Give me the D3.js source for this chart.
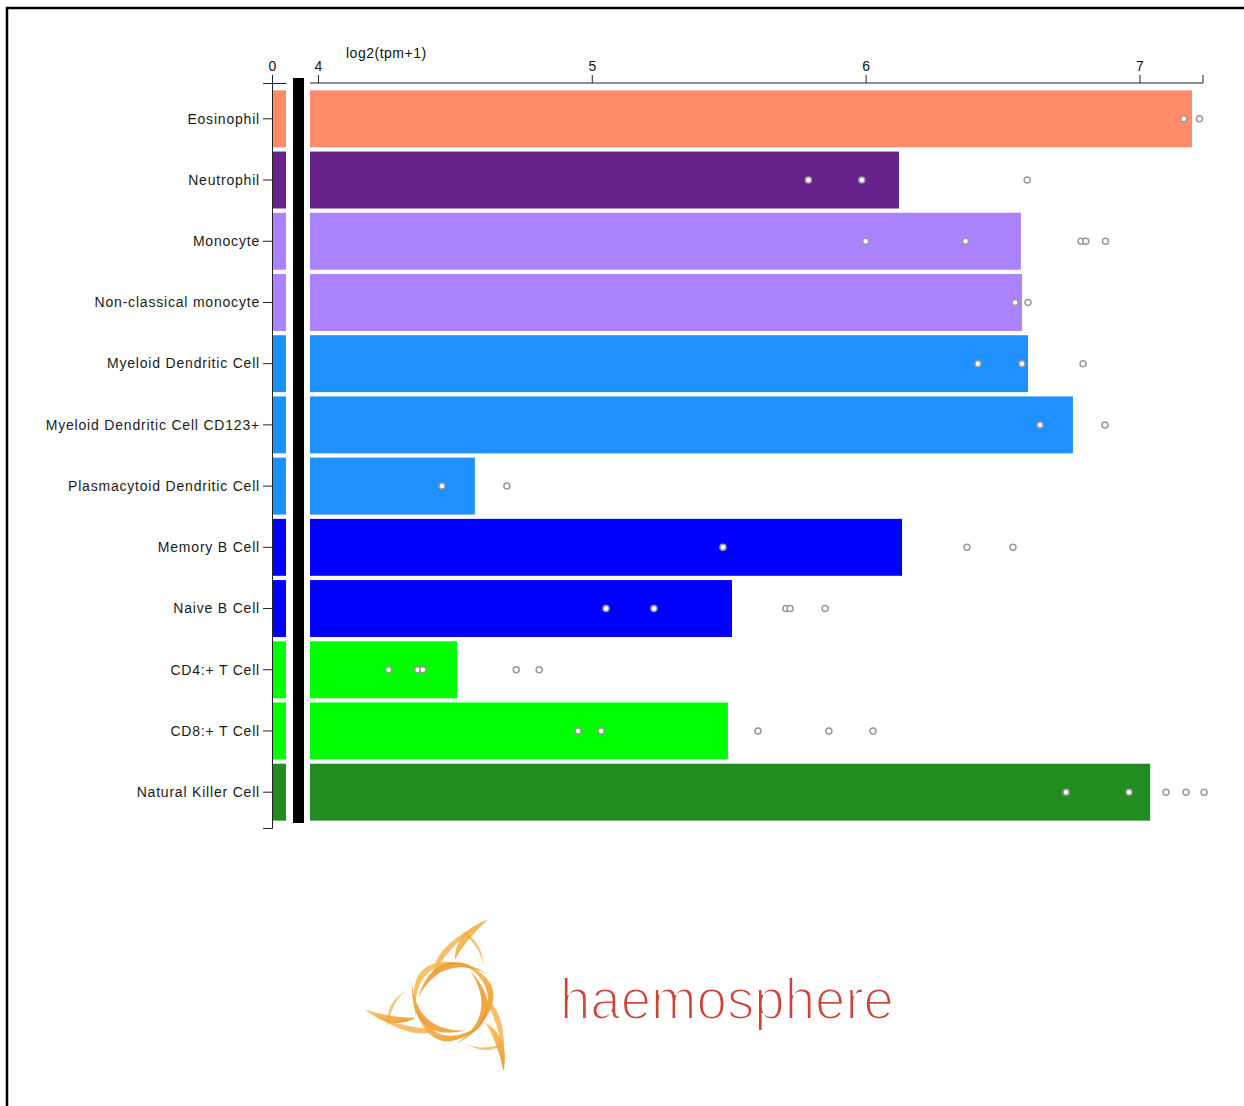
<!DOCTYPE html>
<html>
<head>
<meta charset="utf-8">
<script src="https://cdn.jsdelivr.net/npm/d3@7"></script>
<style>
  body { margin: 0; background: #fff; }
  svg text { font-family: "Liberation Sans", Arial, sans-serif; }
</style>
</head>
<body>
<svg id="svg" width="1244" height="1106"></svg>
<script>
// cell types, mean expression and sample values (log2(tpm+1))
var categories = ["Eosinophil", "Neutrophil", "Monocyte", "Non-classical monocyte",
  "Myeloid Dendritic Cell", "Myeloid Dendritic Cell CD123+", "Plasmacytoid Dendritic Cell",
  "Memory B Cell", "Naive B Cell", "CD4:+ T Cell", "CD8:+ T Cell", "Natural Killer Cell"];
var barValues = [7.192, 6.122, 6.567, 6.571, 6.593, 6.757, 4.573, 6.133, 5.512, 4.508, 5.497, 7.039];
var samples = [
  [7.162, 7.219],
  [5.791, 5.986, 6.590],
  [6.000, 6.365, 6.787, 6.804, 6.876],
  [6.546, 6.593],
  [6.410, 6.571, 6.794],
  [6.637, 6.874],
  [4.453, 4.690],
  [5.479, 6.370, 6.538],
  [5.052, 5.227, 5.709, 5.724, 5.852],
  [4.258, 4.364, 4.383, 4.724, 4.808],
  [4.950, 5.034, 5.607, 5.866, 6.027],
  [6.732, 6.962, 7.097, 7.170, 7.236]
];
var colors = ["#FF8C69", "#68228B", "#AB82FF", "#AB82FF", "#1E90FF", "#1E90FF", "#1E90FF",
  "#0000FF", "#0000FF", "#00FF00", "#00FF00", "#228B22"];
var xTicks = [4, 5, 6, 7];

var svg = d3.select("#svg");

// frame
svg.append("rect").attr("x", 7).attr("y", 8).attr("width", 1250).attr("height", 1110)
  .attr("fill", "none").attr("stroke", "black").attr("stroke-width", 2.5);

var axisY = 83;
var y = d3.scaleBand().domain(categories).range([axisY, 828]).paddingInner(0.07).paddingOuter(0.12);
var x = d3.scaleLinear().domain([3.971, 7.232]).range([310, 1203]);
var xs = d3.scaleLinear().domain([0, 0.5]).range([272, 286]); // broken-axis stub

// small stub bars
svg.append("g").selectAll("rect").data(categories).join("rect")
  .attr("x", xs(0)).attr("y", function(d){ return y(d); })
  .attr("width", xs(0.5) - xs(0)).attr("height", y.bandwidth())
  .attr("fill", function(d, i){ return colors[i]; });

// black break bar
svg.append("rect").attr("x", 293).attr("y", 78).attr("width", 11).attr("height", 745).attr("fill", "black");

// main bars
svg.append("g").selectAll("rect").data(categories).join("rect")
  .attr("x", x.range()[0]).attr("y", function(d){ return y(d); })
  .attr("width", function(d, i){ return x(barValues[i]) - x.range()[0]; })
  .attr("height", y.bandwidth())
  .attr("fill", function(d, i){ return colors[i]; });

// sample points
categories.forEach(function(c, i){
  svg.append("g").selectAll("circle").data(samples[i]).join("circle")
    .attr("cx", function(d){ return x(d); })
    .attr("cy", y(c) + y.bandwidth() / 2)
    .attr("r", 3)
    .attr("fill", "white").attr("stroke", "#999").attr("stroke-width", 1.5);
});

// top axis
var gx = svg.append("g").attr("transform", "translate(0," + axisY + ")")
  .call(d3.axisTop(x).tickValues(xTicks).tickSize(8).tickFormat(d3.format("d")));
gx.select(".domain").remove();
gx.append("path").attr("d", "M310,0H1203V-8").attr("fill", "none").attr("stroke", "#222");
gx.selectAll("text").attr("font-size", 14).attr("fill", "#111").attr("dy", "-0.05em");
gx.selectAll("line").attr("stroke", "#222");

var gs = svg.append("g").attr("transform", "translate(0," + axisY + ")")
  .call(d3.axisTop(xs).tickValues([0]).tickSize(8).tickSizeOuter(0).tickFormat(d3.format("d")));
gs.select(".domain").attr("stroke", "#222");
gs.selectAll("line").attr("stroke", "#222");
gs.selectAll("text").attr("font-size", 14).attr("fill", "#111").attr("dy", "-0.05em");

svg.append("text").attr("x", 346).attr("y", 58).attr("font-size", 14)
  .attr("letter-spacing", 0.5).attr("fill", "#111").text("log2(tpm+1)");

// left axis
var gy = svg.append("g").attr("transform", "translate(272,0)")
  .call(d3.axisLeft(y).tickSize(9));
gy.select(".domain").attr("stroke", "#222");
gy.selectAll("line").attr("stroke", "#222");
gy.selectAll("text").attr("font-size", 14).attr("fill", "#1a1a1a").attr("letter-spacing", 0.8)
  .attr("dy", "0.34em");

// logo
var defs = svg.append("defs");
var grad = defs.append("linearGradient").attr("id", "lg").attr("x1", 0).attr("y1", 0).attr("x2", 1).attr("y2", 1);
grad.append("stop").attr("offset", 0).attr("stop-color", "#fbc45a");
grad.append("stop").attr("offset", 1).attr("stop-color", "#e98a12");

var logo = svg.append("g").attr("transform", "translate(452,1000)");
function pol(r, a) { var t = a * Math.PI / 180; return [r * Math.cos(t), r * Math.sin(t)]; }
function leaf(p0, p1, c1, c2) {
  return "M" + p0 + "Q" + c1 + " " + p1 + "Q" + c2 + " " + p0 + "Z";
}
[0, 120, 240].forEach(function(k){
  var a = -66 + k;
  var g = logo.append("g");
  // ring strands
  g.append("path").attr("d", leaf(pol(40, a - 20), pol(40, a + 125), pol(72, a + 52), pol(60, a + 52)))
    .attr("fill", "url(#lg)").attr("opacity", 0.85);
  g.append("path").attr("d", leaf(pol(34, a + 10), pol(44, a + 150), pol(60, a + 80), pol(48, a + 84)))
    .attr("fill", "#ea8a10").attr("opacity", 0.75);
  // tails
  g.append("path").attr("d", leaf(pol(40, a - 20), pol(88, a), pol(68, a - 22), pol(60, a - 12)))
    .attr("fill", "url(#lg)").attr("opacity", 0.85);
  g.append("path").attr("d", leaf(pol(30, a - 60), pol(78, a - 6), pol(54, a - 48), pol(46, a - 38)))
    .attr("fill", "#f4a83a").attr("opacity", 0.75);
  g.append("path").attr("d", leaf(pol(44, a + 20), pol(70, a - 16), pol(66, a + 6), pol(58, a + 10)))
    .attr("fill", "#f0a030").attr("opacity", 0.65);
});

// brand text, thinned with a white outline drawn over the fill
svg.append("text").attr("x", 560).attr("y", 1019)
  .attr("font-family", "Roboto, Lato, 'Open Sans', sans-serif").attr("font-weight", 100)
  .attr("font-size", 57).attr("textLength", 334).attr("lengthAdjust", "spacingAndGlyphs")
  .attr("fill", "#c9453a").attr("stroke", "white").attr("stroke-width", 2.2)
  .style("paint-order", "fill stroke")
  .text("haemosphere");
</script>
</body>
</html>
